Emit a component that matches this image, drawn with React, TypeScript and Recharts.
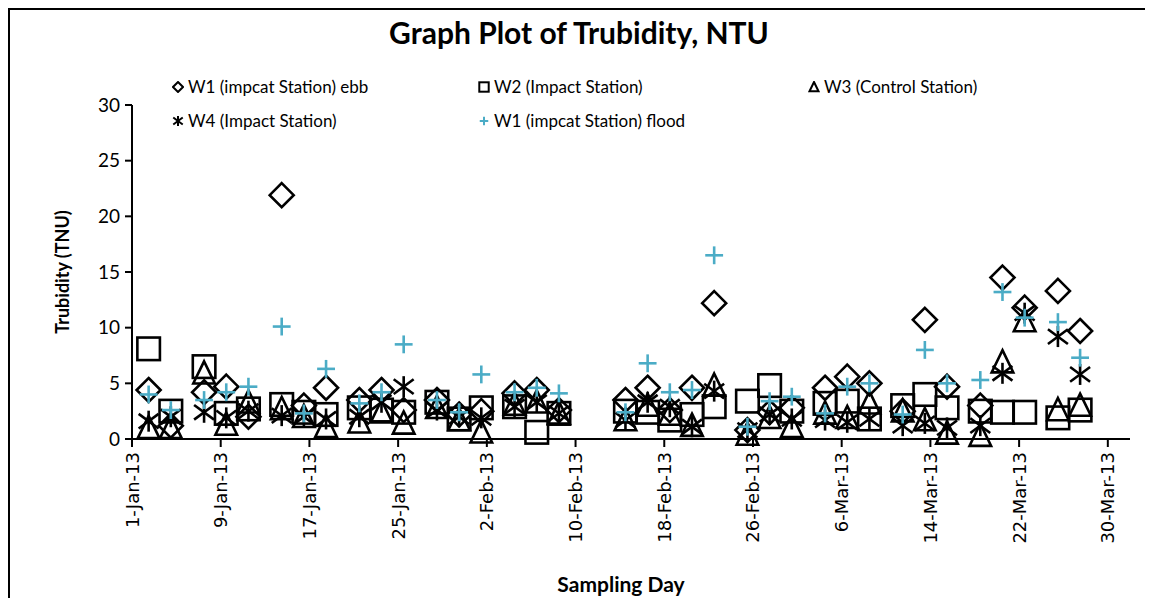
import React from "react";
import { ScatterChart, Scatter, XAxis, YAxis, Legend, Label } from "recharts";

// days after 1-Jan-13 at which samples were taken
const sampleDay = [
  1.5, 3.5, 6.5, 8.5, 10.5, 13.5, 15.5, 17.5, 20.5, 22.5, 24.5, 27.5, 29.5, 31.5, 34.5, 36.5, 38.5,
  44.5, 46.5, 48.5, 50.5, 52.5, 55.5, 57.5, 59.5, 62.5, 64.5, 66.5, 69.5, 71.5, 73.5, 76.5, 78.5,
  80.5, 83.5, 85.5,
];

const w1Ebb = [
  4.4, 1.2, 4.2, 4.7, 2.0, 21.9, 3.0, 4.6, 3.5, 4.4, 2.6, 3.5, 2.2, 2.5, 4.1, 4.4, 2.6,
  3.5, 4.6, 2.6, 4.6, 12.2, 0.8, 2.4, 2.8, 4.6, 5.6, 5.0, 2.5, 10.7, 4.7, 3.0, 14.5,
  11.8, 13.3, 9.7,
];
const w2Impact = [
  8.1, 2.5, 6.5, 2.3, 2.7, 3.1, 2.4, 2.2, 2.8, 2.6, 2.4, 3.3, 1.8, 2.8, 2.9, 0.6, 2.3,
  2.5, 2.4, 1.7, 2.2, 2.9, 3.4, 4.8, 2.5, 3.2, 3.4, 1.8, 3.0, 4.0, 2.8, 2.5, 2.4,
  2.4, 1.9, 2.6,
];
const w3Control = [
  1.0, 1.0, 5.9, 1.3, 3.3, 2.7, 2.0, 1.1, 1.5, 2.4, 1.4, 2.8, 1.7, 0.6, 3.1, 3.3, 2.3,
  1.7, 3.0, 2.2, 1.2, 4.8, 0.4, 1.9, 1.1, 2.3, 1.9, 3.2, 2.5, 1.7, 0.5, 0.3, 6.9,
  10.6, 2.6, 3.0,
];
const w4Impact = [
  1.6, 2.0, 2.4, 1.9, 2.5, 2.1, 2.0, 1.8, 2.0, 3.3, 4.7, 2.6, 2.0, 1.9, 2.9, 3.3, 2.3,
  1.7, 3.3, 2.9, 1.1, 4.3, 0.8, 2.2, 1.8, 1.7, 1.5, 1.8, 1.2, 1.4, 1.0, 1.2, 5.9,
  11.3, 9.2, 5.8,
];
const w1Flood = [
  4.0, 2.6, 3.5, 4.2, 4.7, 10.1, 2.3, 6.3, 3.2, 4.2, 8.5, 3.5, 2.4, 5.8, 4.2, 4.6, 4.1,
  2.4, 6.8, 4.2, 4.4, 16.5, 1.1, 3.4, 3.8, 2.3, 4.7, 5.0, 2.2, 8.0, 5.0, 5.3, 13.2,
  10.9, 10.5, 7.3,
];

const dayTicks = [0, 8, 16, 24, 32, 40, 48, 56, 64, 72, 80, 88];
const ntuTicks = [0, 5, 10, 15, 20, 25, 30];
const monthShort = ["Jan", "Feb", "Mar", "Apr"];

const BLACK = "#000000";
const TEAL = "#4bacc6";
const FONT = "Lato, 'Open Sans', sans-serif";
const TICK_FONT = "'DejaVu Sans', Verdana, sans-serif";

type MarkerKind = "diamond" | "square" | "triangle" | "star" | "plus";

const series: { name: string; values: number[]; kind: MarkerKind }[] = [
  { name: "W1 (impcat Station) ebb", values: w1Ebb, kind: "diamond" },
  { name: "W2 (Impact Station)", values: w2Impact, kind: "square" },
  { name: "W3 (Control Station)", values: w3Control, kind: "triangle" },
  { name: "W4 (Impact Station)", values: w4Impact, kind: "star" },
  { name: "W1 (impcat Station) flood", values: w1Flood, kind: "plus" },
];

const toPoints = (vals: number[]) => sampleDay.map((day, i) => ({ day, ntu: vals[i] }));

function dayLabel(d: number) {
  const dt = new Date(Date.UTC(2013, 0, 1 + d));
  return `${dt.getUTCDate()}-${monthShort[dt.getUTCMonth()]}-13`;
}

function Marker({ kind, cx, cy, size, sw }: { kind: MarkerKind; cx: number; cy: number; size: number; sw: number }) {
  const h = size / 2;
  if (kind === "diamond") {
    return (
      <polygon
        points={`${cx},${cy - h} ${cx + h},${cy} ${cx},${cy + h} ${cx - h},${cy}`}
        fill="none"
        stroke={BLACK}
        strokeWidth={sw}
      />
    );
  }
  if (kind === "square") {
    const s = size * 0.94;
    return <rect x={cx - s / 2} y={cy - s / 2} width={s} height={s} fill="none" stroke={BLACK} strokeWidth={sw} />;
  }
  if (kind === "triangle") {
    return (
      <polygon
        points={`${cx},${cy - h} ${cx + h * 0.9},${cy + h * 0.85} ${cx - h * 0.9},${cy + h * 0.85}`}
        fill="none"
        stroke={BLACK}
        strokeWidth={sw}
      />
    );
  }
  if (kind === "star") {
    const a = h * 0.95;
    const b = h * 0.7;
    return (
      <g stroke={BLACK} strokeWidth={sw}>
        <line x1={cx - a} y1={cy - b} x2={cx + a} y2={cy + b} />
        <line x1={cx - a} y1={cy + b} x2={cx + a} y2={cy - b} />
        <line x1={cx} y1={cy - h} x2={cx} y2={cy + h} />
      </g>
    );
  }
  const p = h * 0.85;
  return (
    <g stroke={TEAL} strokeWidth={sw}>
      <line x1={cx - p} y1={cy} x2={cx + p} y2={cy} />
      <line x1={cx} y1={cy - p} x2={cx} y2={cy + p} />
    </g>
  );
}

function DayTick({ x, y, payload }: any) {
  return (
    <text
      x={x}
      y={y}
      transform={`rotate(-90, ${x}, ${y})`}
      textAnchor="end"
      dominantBaseline="central"
      fontFamily={TICK_FONT}
      fontSize={18}
      fill={BLACK}
    >
      {dayLabel(payload.value)}
    </text>
  );
}

function LegendBox() {
  const lefts = [164, 470, 800];
  return (
    <div style={{ position: "relative", width: 1142, height: 70, fontFamily: FONT, fontSize: 17, color: BLACK }}>
      {series.map((s, i) => (
        <div
          key={s.name}
          style={{
            position: "absolute",
            left: lefts[i % 3],
            top: Math.floor(i / 3) * 34,
            display: "flex",
            alignItems: "center",
            gap: 4,
            whiteSpace: "nowrap",
            lineHeight: "24px",
          }}
        >
          <svg width={12} height={12}>
            <Marker kind={s.kind} cx={6} cy={6} size={10} sw={2} />
          </svg>
          <span>{s.name}</span>
        </div>
      ))}
    </div>
  );
}

export default function App() {
  return (
    <div style={{ position: "relative", width: 1142, height: 590, overflow: "hidden" }}>
      <style>{"html,body{overflow:hidden}"}</style>
      <div
        style={{
          position: "absolute",
          left: 0,
          top: 0,
          width: 1142,
          height: 640,
          border: "2px solid #000",
          boxSizing: "border-box",
        }}
      />
      <div
        style={{
          position: "absolute",
          left: 0,
          top: 6,
          width: 1142,
          textAlign: "center",
          fontFamily: FONT,
          fontWeight: 700,
          fontSize: 30,
          color: BLACK,
        }}
      >
        Graph Plot of Trubidity, NTU
      </div>
      <div style={{ position: "absolute", left: 0, top: 0 }}>
        <ScatterChart width={1142} height={590} margin={{ top: 97, right: 20, bottom: 9, left: 44 }}>
          <XAxis
            type="number"
            dataKey="day"
            domain={[0, 90]}
            ticks={dayTicks}
            allowDataOverflow
            interval={0}
            height={150}
            stroke={BLACK}
            strokeWidth={2}
            tickSize={8}
            tickMargin={5}
            tick={<DayTick />}
          >
            <Label
              content={({ viewBox }: any) => (
                <text
                  x={viewBox.x + viewBox.width / 2 - 10}
                  y={viewBox.y + viewBox.height + 3}
                  textAnchor="middle"
                  fontFamily={FONT}
                  fontWeight={700}
                  fontSize={21}
                  fill={BLACK}
                >
                  Sampling Day
                </text>
              )}
            />
          </XAxis>
          <YAxis
            type="number"
            dataKey="ntu"
            domain={[0, 30]}
            ticks={ntuTicks}
            interval={0}
            width={80}
            stroke={BLACK}
            strokeWidth={2}
            tickSize={7}
            tickMargin={5}
            tick={{ fill: BLACK, fontFamily: FONT, fontSize: 19 }}
          >
            <Label
              content={({ viewBox }: any) => {
                const x = viewBox.x + 10;
                const y = viewBox.y + viewBox.height / 2;
                return (
                  <text
                    x={x}
                    y={y}
                    transform={`rotate(-90, ${x}, ${y})`}
                    textAnchor="middle"
                    dominantBaseline="central"
                    fontFamily={FONT}
                    fontWeight={700}
                    fontSize={18}
                    fill={BLACK}
                  >
                    Trubidity (TNU)
                  </text>
                );
              }}
            />
          </YAxis>
          <Legend
            layout="horizontal"
            verticalAlign="middle"
            align="center"
            wrapperStyle={{ top: 67, left: 0, width: 1142 }}
            content={<LegendBox />}
          />
          {series.map((s) => (
            <Scatter
              key={s.name}
              name={s.name}
              data={toPoints(s.values)}
              fill={s.kind === "plus" ? TEAL : BLACK}
              isAnimationActive={false}
              shape={(p: any) => (
                <Marker kind={s.kind} cx={p.cx} cy={p.cy} size={s.kind === "plus" ? 21 : s.kind === "star" ? 21 : 24} sw={2.6} />
              )}
            />
          ))}
        </ScatterChart>
      </div>
    </div>
  );
}
